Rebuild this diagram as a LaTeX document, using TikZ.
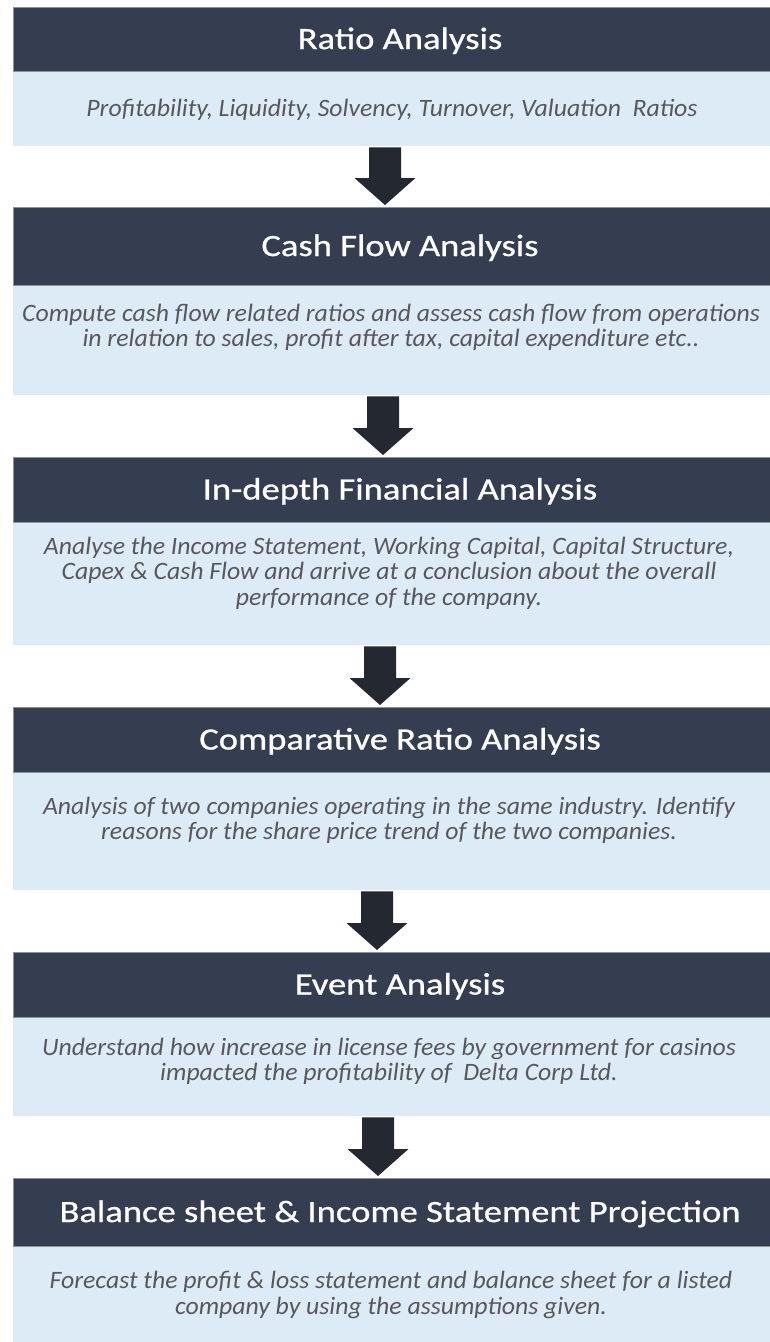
\documentclass[tikz,border=0pt]{standalone}
\usepackage{fontspec}
\usetikzlibrary{calc}
\newfontfamily\titlefont[FakeStretch=1.18,FakeBold=0.8]{Carlito}
\newfontfamily\bodyfont[FakeStretch=1.03]{Carlito}
\definecolor{hdr}{RGB}{52,62,80}
\definecolor{bodybg}{RGB}{221,235,247}
\definecolor{arr}{RGB}{35,40,49}
\definecolor{bodytxt}{RGB}{88,88,92}
\definecolor{hdrline}{RGB}{140,146,156}
% block arrow from the bottom of node #2 to the top of node #3, along the vertical through coordinate #1
\newcommand{\flowarrow}[3]{%
  \path (#1 |- #2.south) coordinate (fs) (#1 |- #3.north) coordinate (fe);
  \fill[arr] ($(fs)+(-16pt,-1pt)$) -- ($(fs)+(16pt,-1pt)$) -- ($(fe)+(16pt,29pt)$)
    -- ($(fe)+(30.5pt,29pt)$) -- ($(fe)+(0pt,2pt)$) -- ($(fe)+(-30.5pt,29pt)$)
    -- ($(fe)+(-16pt,29pt)$) -- cycle;
}
\begin{document}
\begin{tikzpicture}[x=1pt,y=-1pt,
  hdrbox/.style={rectangle, fill=hdr, draw=hdrline, line width=0.8pt, inner sep=0pt,
    minimum width=759pt, anchor=north},
  titletext/.style={text=white, font=\titlefont\fontsize{31}{31}\selectfont,
    inner sep=0pt, text height=20pt, text depth=0pt},
  bodybox/.style={rectangle, fill=bodybg, inner sep=0pt, minimum width=759pt, anchor=north},
  desctext/.style={text=bodytxt, font=\bodyfont\itshape\fontsize{25}{25.5}\selectfont,
    align=center, inner sep=0pt},
]
\useasboundingbox[fill=white] (0,0) rectangle (769,1342);

% block 1
\node[bodybox, minimum height=75pt] (b1) at (392.5,71) {};
\node[hdrbox, minimum height=64pt] (h1) at (392.5,7) {};
\node[titletext] (n1) at (400,39) {Ratio Analysis};
\node[desctext] (t1) at (392,110) {Profitability, Liquidity, Solvency, Turnover, Valuation\ \ Ratios};

% block 2
\node[bodybox, minimum height=110pt] (b2) at (392.5,285) {};
\node[hdrbox, minimum height=78pt] (h2) at (392.5,207) {};
\node[titletext] (n2) at (400,246) {Cash Flow Analysis};
\node[desctext] (t2) at (391,327.5) {Compute cash flow related ratios and assess cash flow from operations\\in relation to sales, profit after tax, capital expenditure etc..};

% block 3
\node[bodybox, minimum height=123pt] (b3) at (392.5,522) {};
\node[hdrbox, minimum height=65pt] (h3) at (392.5,457) {};
\node[titletext] (n3) at (400,489.5) {In-depth Financial Analysis};
\node[desctext] (t3) at (389,573) {Analyse the Income Statement, Working Capital, Capital Structure,\\Capex \& Cash Flow and arrive at a conclusion about the overall\\performance of the company.};

% block 4
\node[bodybox, minimum height=118pt] (b4) at (392.5,772) {};
\node[hdrbox, minimum height=65pt] (h4) at (392.5,707) {};
\node[titletext] (n4) at (400,739.5) {Comparative Ratio Analysis};
\node[desctext] (t4) at (389,820.5) {Analysis of two companies operating in the same industry. Identify\\reasons for the share price trend of the two companies.};

% block 5
\node[bodybox, minimum height=99pt] (b5) at (392.5,1017) {};
\node[hdrbox, minimum height=65pt] (h5) at (392.5,952) {};
\node[titletext] (n5) at (400,984.5) {Event Analysis};
\node[desctext] (t5) at (389,1061.5) {Understand how increase in license fees by government for casinos\\impacted the profitability of\ \ Delta Corp Ltd.};

% block 6
\node[bodybox, minimum height=100pt] (b6) at (392.5,1246) {};
\node[hdrbox, minimum height=68pt] (h6) at (392.5,1178) {};
\node[titletext] (n6) at (400,1212) {Balance sheet \& Income Statement Projection};
\node[desctext] (t6) at (391,1295) {Forecast the profit \& loss statement and balance sheet for a listed\\company by using the assumptions given.};

% arrows
\coordinate (ax1) at (385,0);
\coordinate (ax2) at (383,0);
\coordinate (ax3) at (380,0);
\coordinate (ax4) at (377,0);
\coordinate (ax5) at (378,0);
\flowarrow{ax1}{b1}{h2}
\flowarrow{ax2}{b2}{h3}
\flowarrow{ax3}{b3}{h4}
\flowarrow{ax4}{b4}{h5}
\flowarrow{ax5}{b5}{h6}
\end{tikzpicture}
\end{document}
